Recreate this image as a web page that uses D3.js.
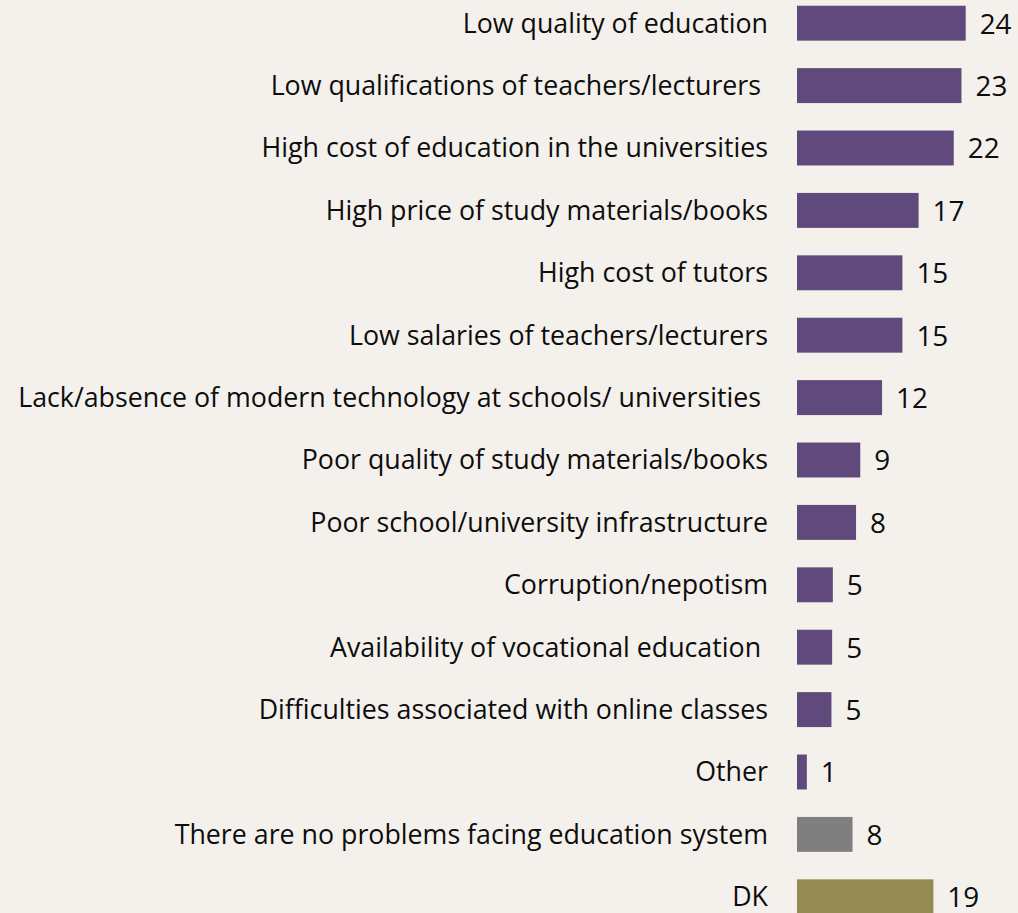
<!DOCTYPE html>
<html><head><meta charset="utf-8">
<script src="https://cdn.jsdelivr.net/npm/d3@7"></script>
<style>
html,body{margin:0;padding:0;background:#f4f1ec;}
svg{display:block;}
text{white-space:pre;}
</style></head>
<body>
<svg id="chart" width="1018" height="913"></svg>
<script>
const categories = [
  "Low quality of education",
  "Low qualifications of teachers/lecturers ",
  "High cost of education in the universities",
  "High price of study materials/books",
  "High cost of tutors",
  "Low salaries of teachers/lecturers",
  "Lack/absence of modern technology at schools/ universities ",
  "Poor quality of study materials/books",
  "Poor school/university infrastructure",
  "Corruption/nepotism",
  "Availability of vocational education ",
  "Difficulties associated with online classes",
  "Other",
  "There are no problems facing education system",
  "DK"
];
const values = [24, 23.4, 22.3, 17.3, 15.0, 15.0, 12.1, 9.0, 8.4, 5.1, 5.0, 4.9, 1.4, 7.9, 19.4];
const groups = ["p","p","p","p","p","p","p","p","p","p","p","p","p","none","dk"];
const groupColors = {p:"#604a7b", none:"#7f7f7f", dk:"#948a54"};

const svg = d3.select("#chart");
const W = 1018, H = 913;
const barX0 = 797;
const x = d3.scaleLinear().domain([0, 24]).range([barX0, barX0 + 168.7]);
const y = d3.scaleBand().domain(categories).range([-8, -8 + 15*62.4]).paddingInner(0.44).paddingOuter(0.22);
const color = d3.scaleOrdinal().domain(Object.keys(groupColors)).range(Object.values(groupColors));
const fmt = d3.format(".0f");

const data = categories.map((c,i)=>({c, v:values[i], g:groups[i]}));

svg.append("g").selectAll("rect").data(data).join("rect")
  .attr("x", x(0)).attr("y", d=>y(d.c))
  .attr("width", d=>x(d.v)-x(0)).attr("height", y.bandwidth())
  .attr("fill", d=>color(d.g));

const font = "Open Sans, sans-serif";
const labels = svg.append("g").selectAll("text").data(data).join("text")
  .attr("x", 768).attr("y", d=>y(d.c)+y.bandwidth()/2)
  .attr("dy", "0.35em").attr("text-anchor","end")
  .attr("font-family", font).attr("font-size", 22).attr("fill","#0d0d0d")
  .text(d=>d.c);

// fit longest label width to reference (approx 744px incl. trailing space)
let maxW = 0;
labels.each(function(){ maxW = Math.max(maxW, this.getComputedTextLength()); });
const fs = 22 * 750 / maxW;
labels.attr("font-size", fs);

svg.append("g").selectAll("text").data(data).join("text")
  .attr("x", d=>x(d.v)+14).attr("y", d=>y(d.c)+y.bandwidth()/2)
  .attr("dy", "0.37em").attr("text-anchor","start")
  .attr("font-family", font).attr("font-size", fs*1.04).attr("fill","#0d0d0d")
  .text(d=>fmt(d.v));
</script>
</body></html>
